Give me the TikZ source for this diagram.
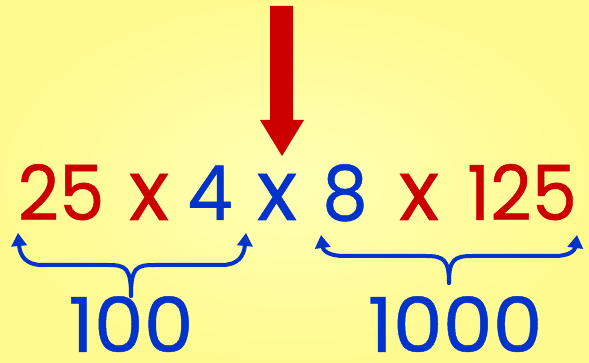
\documentclass[tikz,border=0pt]{standalone}
\usepackage{fontspec}
\setmainfont{Poppins}
\newfontfamily\numfont[FakeBold=0.6]{Poppins}
\usetikzlibrary{arrows.meta}
\definecolor{bgout}{HTML}{FFFA90}
\definecolor{bgin}{HTML}{FFFFB4}
\definecolor{myred}{HTML}{CC0000}
\definecolor{myblue}{HTML}{0033CC}
\tikzset{
  num/.style={anchor=base, inner sep=0pt, font=\numfont\fontsize{76}{76}\selectfont, xscale=0.95},
  times/.style={anchor=base, inner sep=0pt, font=\numfont\fontsize{84}{84}\selectfont, xscale=1.0},
  red/.style={text=myred},
  blue/.style={text=myblue},
  brace/.style={draw=myblue, line width=4pt, line cap=round, -{Triangle[length=13pt,width=15pt]}},
  downarrow/.style={fill=myred, draw=none}
}
\begin{document}
\begin{tikzpicture}[x=1pt,y=-1pt]
\useasboundingbox (0,0) rectangle (589,363);
\shade[inner color=bgin, outer color=bgout] (0,0) rectangle (589,363);
% arrow
\fill[downarrow] (270,6) -- (293,6) -- (293,120) -- (304,120) -- (282,156) -- (260,120) -- (270,120) -- cycle;
% expression
\node[num,red]    (n25)  at (61,220)  {25};
\node[times,red]  (x1)   at (149,220) {x};
\node[num,blue]   (n4)   at (210,220) {4};
\node[times,blue] (x2)   at (277,220) {x};
\node[num,blue]   (n8)   at (345,220) {8};
\node[times,red]  (x3)   at (419,220) {x};
\node[num,red]    (n125) at (522,220) {125};
% results
\node[num,blue,xscale=1.1] (r100)  at (131,352) {100};
\node[num,blue,xscale=1.1] (r1000) at (455,352) {1000};
% braces
\coordinate (lc) at (131,296);
\coordinate (ll) at (18,233);
\coordinate (lr) at (246,233);
\coordinate (rc) at (449,283);
\coordinate (rl) at (321,235);
\coordinate (rr) at (577,235);
\draw[brace] (lc) .. controls (131,268) and (126,265) .. (108,265) -- (42,265) .. controls (26,265) and (20,256) .. (ll);
\draw[brace] (lc) .. controls (131,268) and (136,265) .. (154,265) -- (222,265) .. controls (238,265) and (244,256) .. (lr);
\draw[brace] (rc) .. controls (449,260) and (444,256) .. (426,256) -- (344,256) .. controls (328,256) and (323,250) .. (rl);
\draw[brace] (rc) .. controls (449,260) and (454,256) .. (472,256) -- (555,256) .. controls (570,256) and (575,250) .. (rr);
\end{tikzpicture}
\end{document}
